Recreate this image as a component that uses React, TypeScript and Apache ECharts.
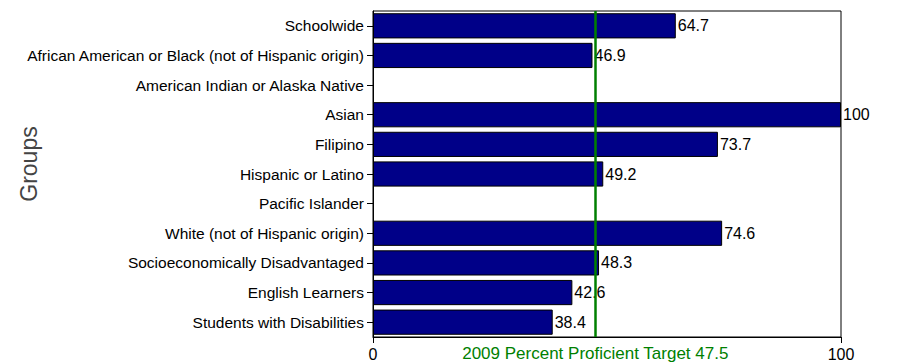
import React, { useEffect, useRef } from "react";
import * as echarts from "echarts";

const categories = [
  "Schoolwide",
  "African American or Black (not of Hispanic origin)",
  "American Indian or Alaska Native",
  "Asian",
  "Filipino",
  "Hispanic or Latino",
  "Pacific Islander",
  "White (not of Hispanic origin)",
  "Socioeconomically Disadvantaged",
  "English Learners",
  "Students with Disabilities",
];
const values: (number | null)[] = [64.7, 46.9, null, 100, 73.7, 49.2, null, 74.6, 48.3, 42.6, 38.4];
const targetValue = 47.5;
const targetLabel = "2009 Percent Proficient Target 47.5";
const xTicks = [0, 100];

const FONT = "'Liberation Sans', Arial, sans-serif";

export default function App() {
  const ref = useRef<HTMLDivElement>(null);
  useEffect(() => {
    if (!ref.current) return;
    const chart = echarts.init(ref.current, null, { renderer: "svg" });
    chart.setOption({
      animation: false,
      backgroundColor: "#fff",
      grid: {
        left: 373,
        right: 65,
        top: 11,
        bottom: 26,
        show: true,
        borderColor: "#000",
        borderWidth: 1,
        outerBoundsMode: "none",
        containLabel: false,
      },
      xAxis: {
        type: "value",
        min: xTicks[0],
        max: xTicks[xTicks.length - 1],
        interval: 100,
        splitLine: { show: false },
        axisLine: { show: true, lineStyle: { color: "#000", width: 1 } },
        axisTick: { show: true, length: 6, lineStyle: { color: "#000" } },
        axisLabel: {
          color: "#000",
          fontFamily: FONT,
          fontSize: 16,
          margin: 9,
        },
      },
      yAxis: {
        type: "category",
        data: categories,
        inverse: true,
        name: "Groups",
        nameLocation: "middle",
        nameGap: 333,
        nameRotate: 90,
        nameMoveOverlap: false,
        nameTextStyle: {
          color: "#444",
          fontFamily: FONT,
          fontSize: 23,
          padding: [0, 0, 0, 20],
        },
        axisLine: { show: true, lineStyle: { color: "#000", width: 1 } },
        axisTick: { show: true, length: 6, alignWithLabel: true, lineStyle: { color: "#000" } },
        axisLabel: {
          color: "#000",
          fontFamily: FONT,
          fontSize: 15.5,
          margin: 9,
        },
      },
      series: [
        {
          type: "bar",
          data: values.map((v) => (v === null ? "-" : v)),
          barCategoryGap: "15%",
          itemStyle: { color: "#000088", borderColor: "#000", borderWidth: 1 },
          label: {
            show: true,
            position: "right",
            distance: 2,
            color: "#000",
            fontFamily: FONT,
            fontSize: 16,
            formatter: (p: any) => String(p.value),
          },
          markLine: {
            silent: true,
            symbol: "none",
            lineStyle: { color: "#008000", width: 2.5, type: "solid" },
            label: {
              show: true,
              position: "end",
              distance: 8,
              color: "#008000",
              fontFamily: FONT,
              fontSize: 17,
              formatter: targetLabel,
            },
            data: [{ xAxis: targetValue }],
          },
        },
      ],
    });
    return () => chart.dispose();
  }, []);
  return (
    <div
      ref={ref}
      style={{ position: "absolute", left: 0, top: 0, width: 906, height: 363 }}
    />
  );
}
